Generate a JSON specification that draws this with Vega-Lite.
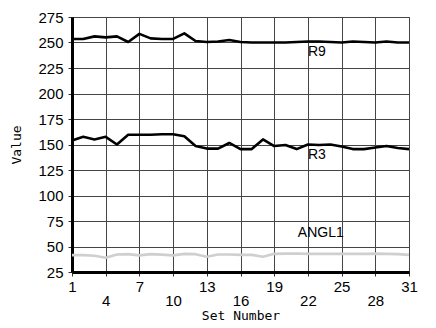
{
  "$schema": "https://vega.github.io/schema/vega-lite/v6.json",
  "autosize": "none",
  "width": 337,
  "height": 255,
  "padding": {"left": 72, "top": 17, "right": 27, "bottom": 56},
  "background": "white",
  "config": {"view": {"stroke": "#444444", "strokeWidth": 1}},
  "datasets": {
    "series": [
      {"n":1,"s":"R9","v":253.5},{"n":2,"s":"R9","v":253.5},{"n":3,"s":"R9","v":256},{"n":4,"s":"R9","v":255},{"n":5,"s":"R9","v":256},{"n":6,"s":"R9","v":250.5},{"n":7,"s":"R9","v":258.5},{"n":8,"s":"R9","v":254},{"n":9,"s":"R9","v":253.5},{"n":10,"s":"R9","v":253.5},{"n":11,"s":"R9","v":259},{"n":12,"s":"R9","v":251.5},{"n":13,"s":"R9","v":250.5},{"n":14,"s":"R9","v":251},{"n":15,"s":"R9","v":252.5},{"n":16,"s":"R9","v":250.5},{"n":17,"s":"R9","v":250},{"n":18,"s":"R9","v":250},{"n":19,"s":"R9","v":250},{"n":20,"s":"R9","v":250},{"n":21,"s":"R9","v":250.5},{"n":22,"s":"R9","v":251},{"n":23,"s":"R9","v":251},{"n":24,"s":"R9","v":250.5},{"n":25,"s":"R9","v":250},{"n":26,"s":"R9","v":251},{"n":27,"s":"R9","v":250.5},{"n":28,"s":"R9","v":250},{"n":29,"s":"R9","v":251},{"n":30,"s":"R9","v":250},{"n":31,"s":"R9","v":250},
      {"n":1,"s":"R3","v":154},{"n":2,"s":"R3","v":157.5},{"n":3,"s":"R3","v":155},{"n":4,"s":"R3","v":157.5},{"n":5,"s":"R3","v":150},{"n":6,"s":"R3","v":159.5},{"n":7,"s":"R3","v":159.5},{"n":8,"s":"R3","v":159.5},{"n":9,"s":"R3","v":160},{"n":10,"s":"R3","v":160},{"n":11,"s":"R3","v":158},{"n":12,"s":"R3","v":148.5},{"n":13,"s":"R3","v":146},{"n":14,"s":"R3","v":146},{"n":15,"s":"R3","v":151.5},{"n":16,"s":"R3","v":145.5},{"n":17,"s":"R3","v":145.5},{"n":18,"s":"R3","v":155},{"n":19,"s":"R3","v":148.5},{"n":20,"s":"R3","v":149.5},{"n":21,"s":"R3","v":145.5},{"n":22,"s":"R3","v":150},{"n":23,"s":"R3","v":149.5},{"n":24,"s":"R3","v":150},{"n":25,"s":"R3","v":148},{"n":26,"s":"R3","v":145.5},{"n":27,"s":"R3","v":145.5},{"n":28,"s":"R3","v":147},{"n":29,"s":"R3","v":148.5},{"n":30,"s":"R3","v":146.5},{"n":31,"s":"R3","v":145.5},
      {"n":1,"s":"ANGL1","v":41.5},{"n":2,"s":"ANGL1","v":41.5},{"n":3,"s":"ANGL1","v":41},{"n":4,"s":"ANGL1","v":39},{"n":5,"s":"ANGL1","v":42.2},{"n":6,"s":"ANGL1","v":42.5},{"n":7,"s":"ANGL1","v":41.3},{"n":8,"s":"ANGL1","v":42.5},{"n":9,"s":"ANGL1","v":42},{"n":10,"s":"ANGL1","v":41.3},{"n":11,"s":"ANGL1","v":42.8},{"n":12,"s":"ANGL1","v":42.5},{"n":13,"s":"ANGL1","v":40},{"n":14,"s":"ANGL1","v":42.2},{"n":15,"s":"ANGL1","v":42.2},{"n":16,"s":"ANGL1","v":41.8},{"n":17,"s":"ANGL1","v":41.8},{"n":18,"s":"ANGL1","v":40},{"n":19,"s":"ANGL1","v":42.8},{"n":20,"s":"ANGL1","v":43},{"n":21,"s":"ANGL1","v":43.2},{"n":22,"s":"ANGL1","v":42.8},{"n":23,"s":"ANGL1","v":42.8},{"n":24,"s":"ANGL1","v":42.8},{"n":25,"s":"ANGL1","v":42.8},{"n":26,"s":"ANGL1","v":42.8},{"n":27,"s":"ANGL1","v":42.8},{"n":28,"s":"ANGL1","v":43},{"n":29,"s":"ANGL1","v":42.8},{"n":30,"s":"ANGL1","v":42.5},{"n":31,"s":"ANGL1","v":41.8}
    ],
    "labels": [
      {"n":22,"v":241,"t":"R9"},
      {"n":22,"v":139.5,"t":"R3"},
      {"n":21.1,"v":63.5,"t":"ANGL1"}
    ]
  },
  "encoding": {
    "x": {
      "field": "n", "type": "quantitative",
      "scale": {"domain": [1, 31], "nice": false, "zero": false},
      "axis": {
        "values": [1,4,7,10,13,16,19,22,25,28,31],
        "title": "Set Number",
        "titleFont": "DejaVu Sans Mono", "titleFontSize": 13, "titleFontWeight": "normal", "titleColor": "#000000",
        "titlePadding": 1,
        "labelFont": "Liberation Sans", "labelFontSize": 15, "labelColor": "#000000",
        "labelPadding": {"condition": {"test": "(datum.value - 1) % 6 == 3", "value": 17}, "value": 3},
        "labelFlush": false, "labelOverlap": false, "labelBound": false,
        "tickSize": 4, "tickColor": "#333333", "tickWidth": 1,
        "domainColor": "#000000", "domainWidth": 3,
        "grid": true, "gridColor": "#444444", "gridWidth": 1, "gridOpacity": 1
      }
    },
    "y": {
      "field": "v", "type": "quantitative",
      "scale": {"domain": [25, 275], "nice": false, "zero": false},
      "axis": {
        "values": [25,50,75,100,125,150,175,200,225,250,275],
        "title": "Value",
        "titleFont": "DejaVu Sans Mono", "titleFontSize": 13, "titleFontWeight": "normal", "titleColor": "#000000",
        "titlePadding": 14,
        "labelFont": "Liberation Sans", "labelFontSize": 15, "labelColor": "#000000",
        "labelPadding": 5, "labelFlush": false, "labelOverlap": false, "labelBound": false,
        "tickSize": 4, "tickColor": "#333333", "tickWidth": 1,
        "domainColor": "#000000", "domainWidth": 3,
        "grid": true, "gridColor": "#444444", "gridWidth": 1, "gridOpacity": 1
      }
    }
  },
  "layer": [
    {
      "data": {"name": "series"},
      "mark": {"type": "line", "strokeWidth": 2.6, "strokeJoin": "round"},
      "encoding": {
        "detail": {"field": "s", "type": "nominal"},
        "color": {
          "field": "s", "type": "nominal",
          "scale": {"domain": ["R9", "R3", "ANGL1"], "range": ["#000000", "#000000", "#cfcfcf"]},
          "legend": null
        }
      }
    },
    {
      "data": {"name": "labels"},
      "mark": {"type": "text", "align": "left", "baseline": "middle", "font": "Liberation Sans", "fontSize": 14, "color": "#000000"},
      "encoding": {
        "text": {"field": "t", "type": "nominal"}
      }
    }
  ]
}
